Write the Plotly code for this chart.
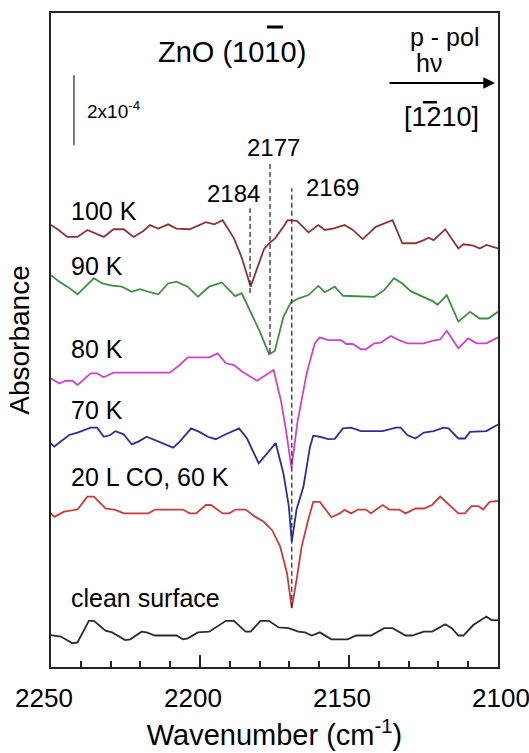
import plotly.graph_objects as go

# ---------------- data (absorbance in units of 1e-4, stacked with offsets) ----------------
clean_w = [2250, 2246.7, 2242.8, 2241.1, 2237.3, 2235.6, 2231.7, 2229.5, 2225.1, 2223.4,
           2219.6, 2217.9, 2215.1, 2207.9, 2205.7, 2204.1, 2200.7, 2196.9, 2191.3, 2188.6,
           2184.7, 2183.0, 2179.7, 2176.9, 2173.6, 2170.3, 2167.0, 2164.8, 2162.5, 2159.8,
           2155.9, 2150.4, 2147.6, 2142.6, 2138.2, 2135.4, 2131.0, 2128.8, 2124.9, 2122.1,
           2117.7, 2115.5, 2113.3, 2111.6, 2108.3, 2103.9, 2102.2, 2100]
clean_a = [0.91, 0.87, 0.68, 0.70, 1.32, 1.32, 1.04, 0.99, 0.77, 0.79,
           1.01, 0.99, 0.90, 0.90, 0.79, 0.82, 0.99, 1.01, 1.32, 1.32,
           1.01, 1.01, 1.32, 1.32, 1.13, 1.11, 1.01, 0.99, 0.90, 0.99,
           0.79, 0.79, 0.90, 0.90, 1.11, 1.11, 0.90, 0.90, 1.01, 1.01,
           1.22, 1.11, 0.90, 0.90, 1.20, 1.44, 1.34, 1.34]

co60_w = [2250, 2248.9, 2245.6, 2241.1, 2237.8, 2235.6, 2231.7, 2228.4, 2225.6, 2217.3,
          2215.1, 2205.7, 2203.5, 2201.3, 2198.0, 2196.3, 2192.4, 2190.2, 2188.0, 2184.7,
          2181.4, 2178.6, 2175.8, 2173.1, 2170.8, 2169.2, 2167.6, 2165.9, 2163.7, 2162.0,
          2159.8, 2155.9, 2153.1, 2151.5, 2149.3, 2147.0, 2144.3, 2142.6, 2140.9, 2138.7,
          2136.5, 2133.2, 2131.0, 2127.7, 2124.9, 2122.1, 2119.4, 2116.1, 2113.3, 2111.1,
          2108.9, 2106.6, 2105.0, 2102.8, 2100]
co60_a = [4.39, 4.29, 4.44, 4.50, 4.87, 4.87, 4.53, 4.49, 4.39, 4.39,
          4.50, 4.50, 4.39, 4.39, 4.63, 4.63, 4.39, 4.39, 4.50, 4.50,
          4.29, 4.15, 3.91, 3.44, 2.68, 1.68, 2.49, 3.44, 4.20, 4.72,
          4.72, 4.28, 4.39, 4.49, 4.39, 4.50, 4.50, 4.39, 4.50, 4.63,
          4.50, 4.50, 4.39, 4.53, 4.53, 4.63, 4.87, 4.60, 4.39, 4.39,
          4.60, 4.60, 4.50, 4.72, 4.75]

k70_w = [2250, 2248.9, 2243.9, 2241.1, 2236.7, 2234.5, 2232.3, 2230.1, 2228.4, 2225.6,
         2222.9, 2220.7, 2217.9, 2214.0, 2209.0, 2206.8, 2203.0, 2200.2, 2197.4, 2194.7,
         2191.9, 2186.9, 2184.2, 2180.3, 2174.6, 2172.0, 2170.2, 2169.2, 2167.6, 2165.3,
         2163.1, 2162.0, 2159.8, 2157.0, 2154.8, 2152.0, 2149.3, 2146.0, 2138.7, 2134.3,
         2132.7, 2130.4, 2127.7, 2124.9, 2121.6, 2118.3, 2116.6, 2113.3, 2111.1, 2109.4,
         2103.9, 2100]
k70_a = [6.39, 6.30, 6.63, 6.70, 6.84, 6.84, 6.58, 6.63, 6.74, 6.65,
         6.36, 6.44, 6.58, 6.44, 6.27, 6.44, 6.82, 6.72, 6.58, 6.51,
         6.63, 6.82, 6.53, 5.82, 6.40, 5.53, 4.60, 3.58, 4.50, 5.15,
         6.29, 6.61, 6.58, 6.51, 6.52, 6.82, 6.84, 6.74, 6.74, 6.84,
         6.84, 6.63, 6.53, 6.70, 6.74, 6.84, 6.82, 6.53, 6.53, 6.72,
         6.74, 6.93]

k80_w = [2250, 2247.2, 2245.0, 2242.8, 2241.1, 2236.7, 2234.5, 2232.3, 2229.0, 2210.1,
         2206.8, 2204.1, 2196.9, 2194.1, 2191.3, 2188.6, 2185.8, 2180.8, 2175.3, 2172.8,
         2171.2, 2169.3, 2167.3, 2164.2, 2161.5, 2159.8, 2157.0, 2152.6, 2150.9, 2148.7,
         2146.0, 2144.3, 2141.5, 2139.3, 2136.0, 2133.2, 2130.4, 2124.9, 2122.1, 2119.4,
         2117.2, 2113.3, 2110.0, 2107.2, 2103.9, 2100]
k80_a = [8.25, 8.10, 8.18, 8.18, 8.06, 8.39, 8.39, 8.28, 8.41, 8.41,
         8.63, 8.85, 8.85, 8.96, 8.68, 8.63, 8.44, 8.18, 8.49, 7.60,
         6.80, 5.69, 7.00, 8.39, 9.25, 9.42, 9.34, 9.34, 9.23, 9.23,
         9.08, 9.08, 9.25, 9.27, 9.46, 9.34, 9.25, 9.25, 9.32, 9.36,
         9.61, 9.11, 9.39, 9.25, 9.25, 9.42]

k90_w = [2250, 2247.2, 2244.5, 2241.1, 2235.6, 2232.8, 2229.5, 2226.2, 2222.9, 2220.1,
         2216.8, 2214.0, 2210.7, 2207.9, 2204.1, 2200.7, 2196.9, 2192.7, 2190.5, 2188.2,
         2186.0, 2183.6, 2180.0, 2176.8, 2174.9, 2172.0, 2170.8, 2169.5, 2167.0, 2163.6,
         2160.3, 2158.1, 2154.8, 2152.0, 2141.5, 2138.2, 2134.9, 2132.1, 2129.3, 2124.9,
         2121.8, 2120.3, 2117.2, 2113.3, 2109.4, 2106.1, 2103.3, 2100]
k90_a = [11.20, 11.01, 10.87, 10.65, 11.11, 10.96, 10.90, 10.87, 10.72, 10.80,
         10.71, 10.65, 10.96, 11.01, 10.87, 10.58, 10.87, 10.99, 10.80, 10.60,
         10.68, 10.25, 9.60, 8.94, 9.03, 10.01, 10.20, 10.42, 10.53, 10.63,
         10.89, 10.71, 10.87, 10.61, 10.58, 10.77, 11.11, 10.96, 10.74, 10.58,
         10.45, 10.35, 10.63, 9.87, 10.15, 9.96, 9.96, 10.15]

k100_w = [2250, 2247.8, 2244.5, 2241.1, 2237.8, 2235.1, 2232.3, 2229.0, 2225.6, 2222.3,
          2219.0, 2216.8, 2214.0, 2210.7, 2207.9, 2203.5, 2198.0, 2195.2, 2192.4, 2188.6,
          2186.0, 2183.0, 2178.5, 2176.9, 2174.8, 2172.0, 2170.6, 2167.5, 2163.6, 2160.3,
          2158.1, 2155.4, 2151.5, 2148.7, 2145.4, 2141.0, 2138.7, 2135.4, 2132.1, 2127.7,
          2124.9, 2123.3, 2121.6, 2117.7, 2113.3, 2111.6, 2108.3, 2106.1, 2103.9, 2100]
k100_a = [12.63, 12.51, 12.29, 12.29, 12.49, 12.39, 12.29, 12.51, 12.51, 12.29,
          12.46, 12.63, 12.53, 12.65, 12.53, 12.51, 12.71, 12.65, 12.77, 12.25,
          11.70, 10.87, 11.95, 12.10, 12.25, 12.58, 12.77, 12.75, 12.42, 12.63,
          12.49, 12.53, 12.63, 12.49, 12.23, 12.58, 12.65, 12.77, 12.11, 12.11,
          12.20, 12.27, 12.20, 12.51, 11.96, 12.08, 12.04, 11.96, 12.06, 11.96]

series_names = ["clean surface", "20 L CO, 60 K", "70 K", "80 K", "90 K", "100 K"]
series_colors = ["#2b2b2b", "#c83c3c", "#2e2e96", "#cc44cc", "#3f8f3f", "#8a3535"]
series_w = [clean_w, co60_w, k70_w, k80_w, k90_w, k100_w]
series_a = [clean_a, co60_a, k70_a, k80_a, k90_a, k100_a]
label_y = [1.97, 5.43, 7.34, 9.09, 11.46, 13.03]

peak_pos = [2183.2, 2176.5, 2169.2]
peak_labels = ["2184", "2177", "2169"]
peak_top = [13.11, 14.40, 13.68]
peak_bottom = [10.69, 8.97, 1.69]
peak_label_xy = [(2188.9, 13.54), (2175.5, 14.85), (2155.7, 13.69)]

scale_x = 2242.3
scale_range = (14.91, 16.91)   # 2x10^-4

x_ticks = [2250, 2200, 2150, 2100]
x_tick_text = ["2250", "2200", "2150", "2100"]
x_tick_shift = [-7.5, -7.5, -7.5, 3]   # the printed labels sit slightly off their ticks
y_max = 18.69

FONT = "Liberation Sans, Arial, Helvetica, sans-serif"

fig = go.Figure()

for name, col, w, a in zip(series_names, series_colors, series_w, series_a):
    fig.add_trace(go.Scatter(x=w, y=a, mode="lines", name=name,
                             line=dict(color=col, width=1.8), showlegend=False))

for p, t, b in zip(peak_pos, peak_top, peak_bottom):
    fig.add_trace(go.Scatter(x=[p, p], y=[b, t], mode="lines", showlegend=False,
                             line=dict(color="#333333", width=1.3, dash="5px,3px")))

fig.add_trace(go.Scatter(x=[scale_x, scale_x], y=list(scale_range), mode="lines",
                         showlegend=False, line=dict(color="#333333", width=1.3)))

ann = []
for name, ly in zip(series_names, label_y):
    ann.append(dict(x=2244.0, y=ly, text=name, xanchor="left", yanchor="middle",
                    showarrow=False, font=dict(size=25, color="black", family=FONT)))
for lab, (lx, ly) in zip(peak_labels, peak_label_xy):
    ann.append(dict(x=lx, y=ly, text=lab, xanchor="center", yanchor="middle",
                    showarrow=False, font=dict(size=24, color="black", family=FONT)))
for tv, tt, sh in zip(x_ticks, x_tick_text, x_tick_shift):
    ann.append(dict(x=tv, y=0, xref="x", yref="y", text=tt, xanchor="center",
                    yanchor="middle", xshift=sh, yshift=-31, showarrow=False,
                    font=dict(size=26, color="black", family=FONT)))

ann.append(dict(x=2189.3, y=17.57, text="ZnO (1010)", showarrow=False,
                font=dict(size=29, color="black", family=FONT)))
ann.append(dict(x=2117.8, y=18.0, text="p - pol", showarrow=False,
                font=dict(size=25, color="black", family=FONT)))
ann.append(dict(x=2123.2, y=17.26, text="hν", showarrow=False,
                font=dict(size=25, color="black", family=FONT)))
ann.append(dict(x=2118.8, y=15.71, text="[1210]", showarrow=False,
                font=dict(size=27, color="black", family=FONT)))
ann.append(dict(x=2238.5, y=15.91, text="2x10<sup>-4</sup>", xanchor="left", showarrow=False,
                font=dict(size=19, color="black", family=FONT)))
# polarization arrow
ann.append(dict(x=2101.0, y=16.69, ax=2136.9, ay=16.69, axref="x", ayref="y",
                xref="x", yref="y", text="", showarrow=True, arrowhead=2,
                arrowsize=1.3, arrowwidth=1.8, arrowcolor="black"))

shapes = [
    # overline on the Miller index "1" of ZnO (10-10)
    dict(type="line", xref="x", yref="y", x0=2177.5, x1=2172.1, y0=18.29, y1=18.29,
         line=dict(color="black", width=3)),
    # overline on the "2" of [1-210]
    dict(type="line", xref="x", yref="y", x0=2125.2, x1=2120.5, y0=16.14, y1=16.14,
         line=dict(color="black", width=2.5)),
]

fig.update_layout(
    width=529, height=753,
    margin=dict(l=51, r=31, t=13, b=86),
    paper_bgcolor="white", plot_bgcolor="white",
    annotations=ann, shapes=shapes,
    font=dict(family=FONT, color="black"),
)
fig.update_xaxes(
    range=[2250, 2100], tickvals=x_ticks, showticklabels=False,
    ticks="inside", ticklen=12, tickwidth=1.5,
    tickcolor="#222", showline=True, linecolor="#222", linewidth=1.8, mirror=True,
    showgrid=False, zeroline=False, automargin=False,
    minor=dict(ticks="inside", ticklen=6, tickwidth=1.5, tickcolor="#222", dtick=10, showgrid=False),
    title=dict(text="Wavenumber (cm<sup>-1</sup>)", font=dict(size=29, family=FONT), standoff=57),
)
fig.update_yaxes(
    range=[0, y_max], showticklabels=False, ticks="", showline=True, linecolor="#222",
    linewidth=1.8, mirror=True, showgrid=False, zeroline=False, automargin=False,
    title=dict(text="Absorbance", font=dict(size=28, family=FONT), standoff=11),
)

fig.write_html("out.html", config={"displayModeBar": False},
               post_script="document.body.style.margin='0';document.body.style.overflow='hidden';")
